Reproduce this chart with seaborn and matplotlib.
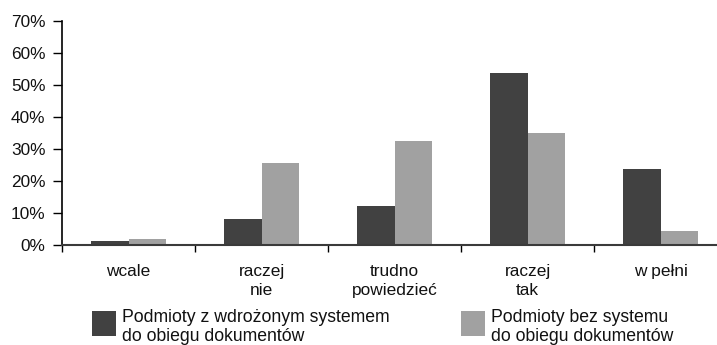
import matplotlib
matplotlib.use("Agg")
import matplotlib.pyplot as plt
import seaborn as sns
import pandas as pd
from matplotlib.patches import Rectangle
from matplotlib.ticker import FixedLocator

# Survey answers (share of respondents, %)
categories = ["wcale", "raczej\nnie", "trudno\npowiedzieć", "raczej\ntak", "w pełni"]
with_system = [1.4, 8.1, 12.2, 53.9, 23.8]
without_system = [2.0, 25.6, 32.5, 35.0, 4.5]
series_names = [
    "Podmioty z wdrożonym systemem\ndo obiegu dokumentów",
    "Podmioty bez systemu\ndo obiegu dokumentów",
]
series_colors = ["#414141", "#a1a1a1"]
y_ticks = [0, 10, 20, 30, 40, 50, 60, 70]

df = pd.DataFrame({
    "kategoria": categories * 2,
    "udzial": with_system + without_system,
    "grupa": [series_names[0]] * len(categories) + [series_names[1]] * len(categories),
})

sns.set_style("ticks")
plt.rcParams["font.family"] = ["Liberation Sans", "DejaVu Sans"]
TICK_FS = 12.4
LEGEND_FS = 12.7

W, H = 717, 345
fig = plt.figure(figsize=(W / 100, H / 100), dpi=100)
ax = fig.add_axes([62 / W, 1 - 245 / H, 665 / W, 224 / H])

sns.barplot(
    data=df, x="kategoria", y="udzial", hue="grupa",
    palette=series_colors, width=0.564, saturation=1,
    errorbar=None, legend=False, linewidth=0, ax=ax,
)

ax.set_xlim(-0.5, 4.5)
ax.set_ylim(0, 70)
ax.set_xlabel("")
ax.set_ylabel("")

# y axis
ax.set_yticks(y_ticks)
ax.set_yticklabels([f"{v}%" for v in y_ticks])
ax.tick_params(axis="y", length=6.5, width=1.0, color="black", pad=5.5,
               labelsize=TICK_FS, labelcolor="#111111")

# x axis: labels at category centres, tick marks between categories
ax.set_xticks(range(len(categories)))
ax.set_xticklabels(categories, fontsize=TICK_FS, color="#111111", linespacing=1.35)
ax.tick_params(axis="x", which="major", length=0, pad=13.5)
ax.xaxis.set_minor_locator(FixedLocator([i - 0.5 for i in range(len(categories) + 1)]))
ax.tick_params(axis="x", which="minor", length=5, width=1.0, color="black")

for side in ("top", "right"):
    ax.spines[side].set_visible(False)
ax.spines["left"].set_color("black")
ax.spines["left"].set_linewidth(1.2)
ax.spines["bottom"].set_color("#3a3a3a")
ax.spines["bottom"].set_linewidth(1.5)

# legend below the chart
legend_x = [91.5, 460.5]
for x0, name, col in zip(legend_x, series_names, series_colors):
    fig.add_artist(Rectangle((x0 / W, 1 - 336 / H), 24 / W, 25 / H,
                             transform=fig.transFigure, facecolor=col,
                             edgecolor="none"))
    fig.text((x0 + 30.5) / W, 1 - 308.5 / H, name, fontsize=LEGEND_FS, va="top",
             ha="left", color="#111111", linespacing=1.17)

fig.savefig("out.png", dpi=100)
